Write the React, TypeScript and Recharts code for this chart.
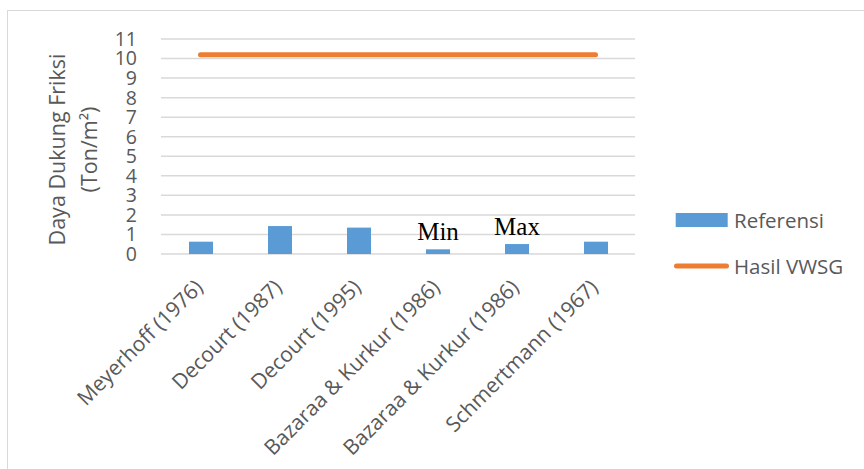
import React from "react";
import {
  ComposedChart,
  Bar,
  Line,
  XAxis,
  YAxis,
  CartesianGrid,
  Legend,
  LabelList,
} from "recharts";

const categories = [
  "Meyerhoff (1976)",
  "Decourt (1987)",
  "Decourt (1995)",
  "Bazaraa & Kurkur (1986)",
  "Bazaraa & Kurkur (1986)",
  "Schmertmann (1967)",
];
const referensi = [0.63, 1.43, 1.35, 0.24, 0.51, 0.63];
const hasilVWSG = [10.2, 10.2, 10.2, 10.2, 10.2, 10.2];
const notes = ["", "", "", "Min", "Max", ""];
const yTicks = [0, 1, 2, 3, 4, 5, 6, 7, 8, 9, 10, 11];

const data = categories.map((name, i) => ({
  name,
  referensiVal: referensi[i],
  hasilVal: hasilVWSG[i],
  note: notes[i],
}));

const FONT = "'Open Sans', 'Noto Sans', sans-serif";
const GREY = "#595959";
const BLUE = "#5B9BD5";
const ORANGE = "#ED7D31";

const YTitle = (props: any) => {
  const vb = props.viewBox || {};
  const cy = vb.y + vb.height / 2 + 3;
  return (
    <g fontFamily={FONT} fontSize={21.5} fill={GREY}>
      <text x={65} y={cy} textAnchor="middle" transform={`rotate(-90, 65, ${cy})`}>
        Daya Dukung Friksi
      </text>
      <text x={97} y={cy} textAnchor="middle" transform={`rotate(-90, 97, ${cy})`}>
        (Ton/m²)
      </text>
    </g>
  );
};

const renderLegend = (props: any) => {
  const payload = [...(props.payload || [])].sort(
    (a: any, b: any) => (a.type === "line" ? 1 : 0) - (b.type === "line" ? 1 : 0)
  );
  return (
    <svg width={190} height={80} style={{ display: "block" }}>
      {payload.map((entry: any, i: number) => {
        const cy = 20 + i * 46;
        const isLine = entry.type === "line";
        return (
          <g key={i}>
            {isLine ? (
              <line
                x1={7.5}
                x2={57.5}
                y1={cy}
                y2={cy}
                stroke={entry.color}
                strokeWidth={5}
                strokeLinecap="round"
              />
            ) : (
              <rect x={6.7} y={cy - 7} width={52} height={14} fill={entry.color} />
            )}
            <text
              x={65}
              y={cy}
              dominantBaseline="central"
              fontFamily={FONT}
              fontSize={20.5}
              fill={GREY}
            >
              {entry.value}
            </text>
          </g>
        );
      })}
    </svg>
  );
};

export default function App() {
  return (
    <div style={{ position: "absolute", left: 0, top: 0, width: 864, height: 469, background: "#fff", overflow: "hidden" }}>
      <div
        style={{
          position: "absolute",
          left: 7,
          top: 9.5,
          width: 870,
          height: 480,
          borderLeft: "1.5px solid #d9d9d9",
          borderTop: "1.5px solid #d9d9d9",
        }}
      />
      <div style={{ position: "absolute", left: 0, top: 0 }}>
        <ComposedChart
          width={864}
          height={469}
          data={data}
          margin={{ top: 39, right: 39, bottom: 15, left: 0 }}
        >
          <CartesianGrid vertical={false} stroke="#d9d9d9" strokeWidth={1.5} />
          <XAxis
            dataKey="name"
            height={200}
            axisLine={false}
            tickLine={false}
            interval={0}
            tickSize={6}
            tickMargin={18}
            tick={{ angle: -45, textAnchor: "end", fontSize: 21, fill: GREY, fontFamily: FONT, dx: -7 }}
          />
          <YAxis
            width={161}
            domain={[0, 11]}
            ticks={yTicks}
            interval={0}
            axisLine={false}
            tickLine={false}
            tickSize={6}
            tickMargin={18}
            tick={{ fontSize: 19.5, fill: GREY, fontFamily: FONT }}
            label={{ content: YTitle }}
          />
          <Bar dataKey="referensiVal" name="Referensi" fill={BLUE} barSize={24} isAnimationActive={false}>
            <LabelList
              dataKey="note"
              position="top"
              offset={9}
              fill="#000"
              fontSize={25}
              fontFamily="'Liberation Serif', 'DejaVu Serif', serif"
            />
          </Bar>
          <Line
            dataKey="hasilVal"
            name="Hasil VWSG"
            stroke={ORANGE}
            strokeWidth={5}
            strokeLinecap="round"
            dot={false}
            activeDot={false}
            isAnimationActive={false}
            type="linear"
          />
          <Legend
            layout="vertical"
            verticalAlign="middle"
            align="right"
            wrapperStyle={{ left: 669, top: 200, width: 190, height: 80 }}
            content={renderLegend}
          />
        </ComposedChart>
      </div>
    </div>
  );
}
